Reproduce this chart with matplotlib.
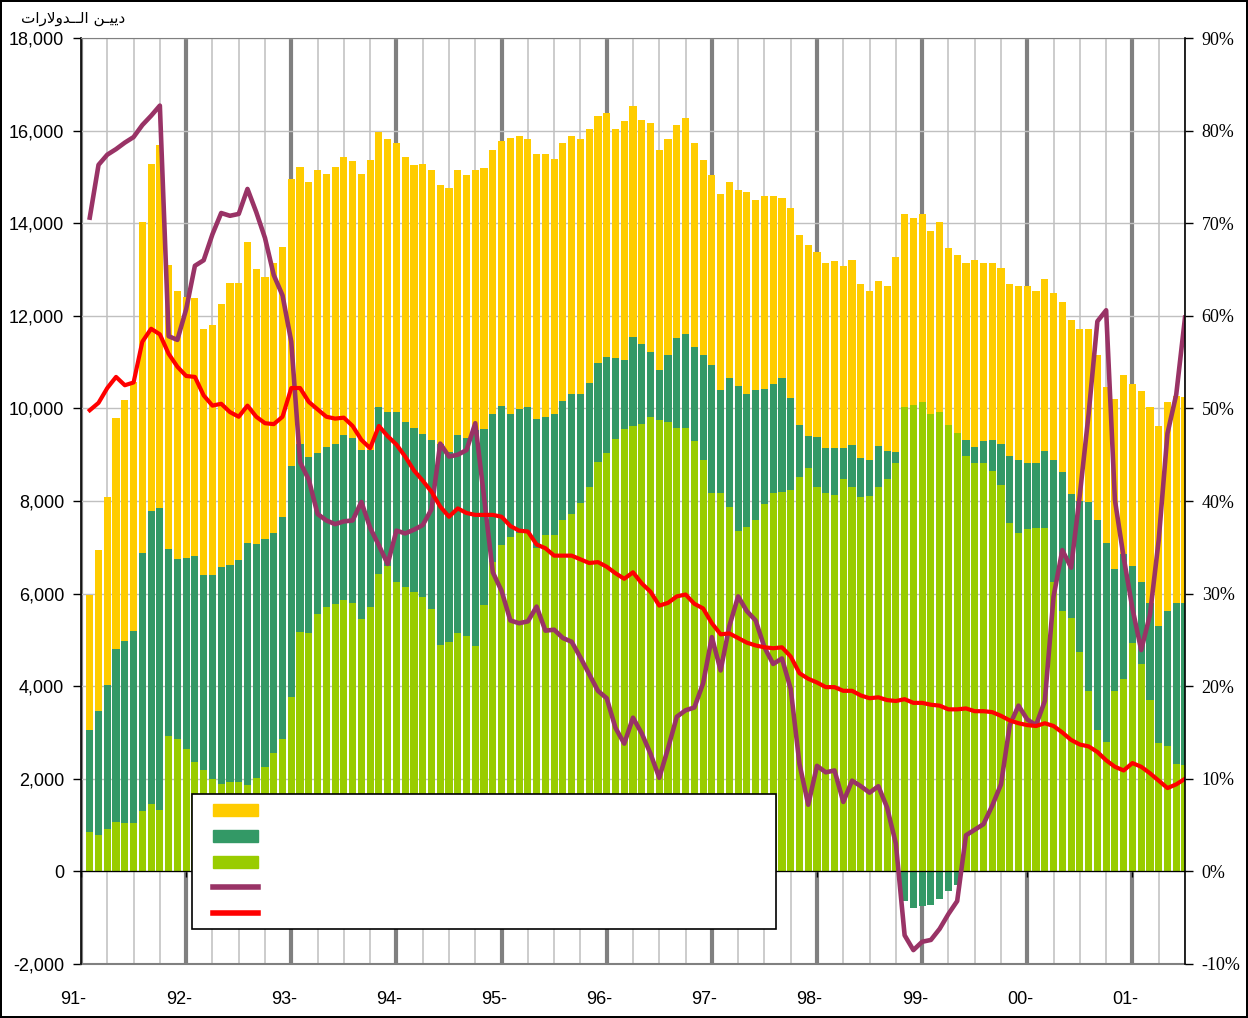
import numpy as np
import matplotlib.pyplot as plt
from matplotlib.patches import Patch, Rectangle
from matplotlib.lines import Line2D
from matplotlib.ticker import FuncFormatter

# monthly values, Jan 1991 .. Jun 2001 (millions of dollars)
yellow = [2900, 3490, 4060, 4980, 5220, 5380, 7160, 7490, 7840, 6130,
          5780, 5650, 5570, 5310, 5410, 5680, 6100, 5990, 6500, 5940,
          5660, 5840, 5840, 6190, 5970, 5940, 6100, 5890, 5980, 6000,
          5980, 5950, 6260, 5940, 5890, 5820, 5720, 5680, 5820, 5820,
          5580, 5690, 5720, 5680, 5620, 5650, 5720, 5720, 5970, 5890,
          5790, 5720, 5680, 5510, 5580, 5560, 5490, 5490, 5330, 5280,
          4940, 5150, 5000, 4830, 4940, 4760, 4660, 4620, 4660, 4410,
          4210, 4100, 4220, 4220, 4230, 4370, 4100, 4170, 4060, 3880,
          4100, 4100, 4120, 4000, 3990, 4040, 3920, 3990, 3750, 3650,
          3560, 3560, 4210, 4170, 4040, 4060, 3960, 4100, 3820, 3840,
          3820, 4040, 3840, 3840, 3800, 3710, 3750, 3820, 3710, 3710,
          3600, 3660, 3740, 3730, 3730, 3560, 3360, 3660, 3880, 3920,
          4130, 4230, 4310, 4500, 4460, 4440]
dark = [2210, 2670, 3110, 3750, 3920, 4140, 5560, 6330, 6520, 4040,
        3880, 4120, 4460, 4220, 4410, 4690, 4680, 4790, 5240, 5060,
        4920, 4740, 4780, 4990, 4080, 3810, 3490, 3460, 3460, 3560,
        3560, 3650, 3390, 3600, 3340, 3660, 3560, 3530, 3520, 3660,
        4360, 4100, 4270, 4270, 4660, 3790, 3180, 3020, 2650, 2690,
        2730, 2800, 2540, 2600, 2560, 2590, 2370, 2240, 2150, 2080,
        1750, 1500, 1930, 1730, 1410, 1090, 1450, 1930, 2030, 2030,
        2280, 2770, 2230, 2790, 3120, 2870, 2800, 2490, 2360, 2470,
        1980, 1130, 700, 1070, 980, 1020, 670, 910, 840, 780,
        880, 610, 230, -630, -800, -740, -730, -600, -430, -300,
        350, 350, 480, 670, 880, 1440, 1580, 1440, 1410, 1670,
        2630, 3000, 2690, 3250, 4080, 4540, 4300, 2640, 2700, 1670,
        1760, 2100, 2540, 2930, 3480, 3510]
light = [850, 790, 920, 1060, 1050, 1050, 1310, 1450, 1320, 2920,
         2870, 2640, 2360, 2190, 1990, 1890, 1930, 1930, 1860, 2010,
         2250, 2560, 2870, 3770, 5160, 5140, 5550, 5710, 5770, 5860,
         5800, 5460, 5720, 6430, 6590, 6260, 6150, 6040, 5930, 5660,
         4880, 4960, 5150, 5090, 4870, 5760, 6690, 7040, 7220, 7300,
         7300, 6980, 7270, 7270, 7600, 7730, 7950, 8310, 8840, 9030,
         9340, 9550, 9610, 9670, 9810, 9740, 9710, 9580, 9580, 9290,
         8880, 8170, 8170, 7870, 7360, 7440, 7600, 7930, 8170, 8190,
         8240, 8520, 8710, 8310, 8170, 8130, 8480, 8310, 8090, 8110,
         8310, 8480, 8830, 10030, 10070, 10130, 9870, 9930, 9640, 9470,
         8970, 8810, 8810, 8640, 8350, 7530, 7310, 7390, 7420, 7420,
         6260, 5630, 5470, 4740, 3900, 3050, 2800, 3900, 4150, 4930,
         4490, 3700, 2770, 2700, 2320, 2290]
# percentages (right axis)
purple = [70.6, 76.3, 77.4, 78.0, 78.7, 79.3, 80.6, 81.6, 82.7, 57.8,
          57.4, 60.7, 65.4, 66.0, 68.8, 71.1, 70.8, 71.0, 73.7, 71.2,
          68.4, 64.4, 62.2, 57.2, 44.2, 42.3, 38.6, 37.9, 37.5, 37.8,
          37.9, 39.9, 37.1, 35.2, 33.2, 36.8, 36.5, 36.9, 37.4, 39.1,
          46.2, 44.8, 45.0, 45.5, 48.4, 40.4, 32.3, 30.3, 27.1, 26.8,
          27.0, 28.6, 26.0, 26.1, 25.2, 24.8, 23.1, 21.3, 19.5, 18.7,
          15.5, 13.8, 16.6, 14.9, 12.7, 10.1, 13.3, 16.7, 17.4, 17.7,
          20.3, 25.3, 21.7, 26.5, 29.7, 28.1, 27.1, 24.2, 22.4, 23.0,
          19.7, 11.6, 7.2, 11.4, 10.7, 10.9, 7.5, 9.8, 9.2, 8.5,
          9.2, 6.9, 3.0, -6.9, -8.5, -7.6, -7.4, -6.2, -4.6, -3.2,
          3.9, 4.5, 5.1, 7.1, 9.4, 15.8, 17.9, 16.4, 15.8, 18.4,
          29.7, 34.7, 32.8, 40.7, 49.4, 59.4, 60.6, 40.1, 33.9, 28.4,
          23.9, 27.7, 35.8, 47.3, 51.5, 59.8]
red = [49.8, 50.6, 52.2, 53.4, 52.5, 52.8, 57.2, 58.6, 58.0, 55.9,
       54.5, 53.5, 53.4, 51.4, 50.3, 50.5, 49.6, 49.1, 50.3, 49.1,
       48.4, 48.3, 49.1, 52.2, 52.2, 50.7, 49.9, 49.1, 48.9, 49.0,
       48.1, 46.6, 45.7, 48.1, 47.0, 46.1, 44.8, 43.3, 42.2, 41.0,
       39.4, 38.3, 39.2, 38.7, 38.5, 38.5, 38.5, 38.3, 37.3, 36.8,
       36.7, 35.3, 34.9, 34.1, 34.1, 34.1, 33.7, 33.3, 33.4, 32.9,
       32.2, 31.6, 32.3, 31.1, 30.2, 28.7, 29.0, 29.7, 29.9, 28.9,
       28.4, 26.8, 25.6, 25.7, 25.2, 24.7, 24.4, 24.2, 24.1, 24.2,
       23.2, 21.4, 20.8, 20.4, 19.9, 19.9, 19.5, 19.5, 19.0, 18.7,
       18.8, 18.5, 18.4, 18.6, 18.2, 18.2, 18.0, 17.9, 17.5, 17.5,
       17.6, 17.3, 17.3, 17.2, 16.8, 16.3, 16.0, 15.8, 15.7, 16.0,
       15.7, 15.0, 14.2, 13.7, 13.5, 12.9, 12.0, 11.3, 10.9, 11.7,
       11.3, 10.6, 9.8, 9.0, 9.4, 10.0]
year_labels = ['91-', '92-', '93-', '94-', '95-', '96-', '97-', '98-', '99-', '00-', '01-']
# "ديين الدولارات" written with presentation forms in display order
title = '\uFE95\uFE8D\uFEAD\uFEFB\uFEED\uFEAA\u0640\u0640\uFEDF\uFE8D \uFEE6\u0640\uFEF4\uFEF3\uFEA9'

c_yellow, c_dark, c_light = '#FFCC00', '#339966', '#99CC00'
c_purple, c_red = '#993366', '#FF0000'

n = len(light)
x = np.arange(1, n + 1)
light_a = np.array(light)
dark_a = np.array(dark)
dark_bottom = np.where(dark_a >= 0, light_a, 0)
yellow_bottom = light_a + np.clip(dark_a, 0, None)

fig = plt.figure(figsize=(12.48, 10.18), dpi=100)
fig.patch.set_edgecolor('black')
fig.patch.set_linewidth(1.5)
ax = fig.add_axes([81 / 1248, 1 - 964 / 1018, 1104 / 1248, 926 / 1018])

ax.bar(x, light, width=0.82, color=c_light, linewidth=0)
ax.bar(x, dark, bottom=dark_bottom, width=0.82, color=c_dark, linewidth=0)
ax.bar(x, yellow, bottom=yellow_bottom, width=0.82, color=c_yellow, linewidth=0)

ax.set_xlim(0, n)
ax.set_ylim(-2000, 18000)
ax.set_yticks(range(-2000, 18001, 2000))
ax.yaxis.set_major_formatter(FuncFormatter(lambda v, p: f'{v:,.0f}'))
ax.set_xticks(range(0, n + 1, 12))
ax.set_xticks(range(0, n + 1, 3), minor=True)
ax.set_xticklabels([])
ax.set_axisbelow(True)
ax.grid(axis='y', color='#C0C0C0', lw=1)
ax.grid(axis='x', which='minor', color='#C8C8C8', lw=1.3)
ax.grid(axis='x', which='major', color='#808080', lw=3)
ax.spines['bottom'].set_position(('data', 0))
ax.spines['bottom'].set_linewidth(0.9)
ax.spines['top'].set_color('#808080')
ax.spines['right'].set_visible(False)
ax.spines['left'].set_linewidth(1.2)
ax.axhline(-2000, color='#808080', lw=1.5, clip_on=False)
ax.tick_params(axis='x', which='major', direction='out', length=4, width=1)
ax.tick_params(axis='x', which='minor', length=0)
ax.tick_params(axis='y', direction='out', length=6, width=1, pad=6, labelsize=13)
for lab in ax.get_yticklabels():
    lab.set_family('Liberation Sans')

for i, lab in enumerate(year_labels):
    ax.text(i * 12 - 0.85, -0.038, lab, transform=ax.get_xaxis_transform(),
            ha='center', va='center', fontsize=13,
            family=['Liberation Sans Narrow', 'Liberation Sans'])

ax2 = ax.twinx()
ax2.plot(x, purple, color=c_purple, lw=3.3)
ax2.plot(x, red, color=c_red, lw=3.0)
ax2.set_ylim(-10, 90)
ax2.set_yticks(range(-10, 91, 10))
ax2.set_yticklabels([f'{v}%' for v in range(-10, 91, 10)],
                    family='Liberation Serif', fontsize=13)
for s in ['left', 'top', 'bottom']:
    ax2.spines[s].set_visible(False)
ax2.spines['right'].set_linewidth(1.2)
ax2.tick_params(axis='y', direction='out', length=6, width=1, pad=6)

# legend box (labels are blank in the source)
ax2.add_patch(Rectangle((0.1005, 0.0378), 0.529, 0.1458, transform=ax2.transAxes,
                        facecolor='white', edgecolor='black', lw=1.2, zorder=4))
handles = [Patch(color=c_yellow), Patch(color=c_dark), Patch(color=c_light),
           Line2D([], [], color=c_purple, lw=4), Line2D([], [], color=c_red, lw=4)]
leg = ax2.legend(handles, [''] * 5, loc='upper left', bbox_to_anchor=(0.1196, 0.173),
                 frameon=False, borderpad=0, borderaxespad=0, fontsize=10,
                 handlelength=3.24, handleheight=1.0, labelspacing=0.86)
leg.set_zorder(5)

fig.text(125 / 1248, 1 - 18 / 1018, title, ha='right', va='center', fontsize=11,
         family='DejaVu Sans')

fig.savefig('out.png', dpi=100, edgecolor=fig.get_edgecolor())
